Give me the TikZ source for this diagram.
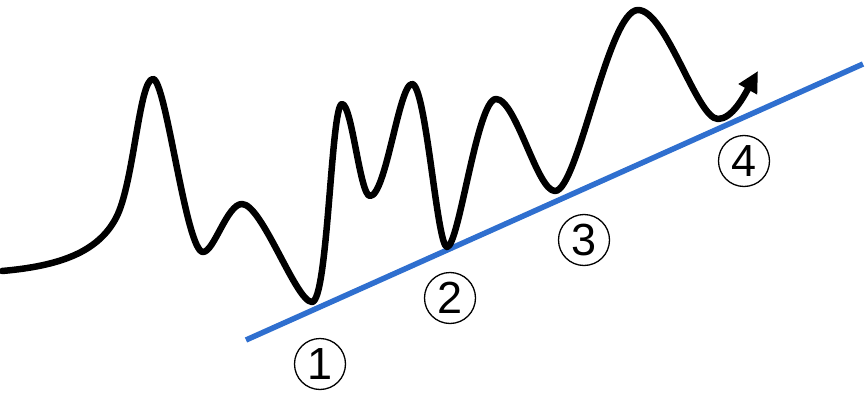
\documentclass[tikz,border=0pt]{standalone}
\usepackage{fontspec}
\setmainfont{Liberation Sans}
\usetikzlibrary{arrows.meta}
\definecolor{trendblue}{RGB}{47,111,207}
\tikzset{
  wave/.style={line width=6.5pt, line cap=round, line join=round, black},
  trend/.style={line width=5.5pt, trendblue},
  num/.style={circle, draw=black, line width=1.3pt, minimum size=51pt, inner sep=0pt, font=\fontsize{45}{45}\selectfont}
}
\begin{document}
\begin{tikzpicture}[x=1pt,y=-1pt]
\useasboundingbox (0,0) rectangle (865,412);
\coordinate (ts) at (246,340);
\coordinate (te) at (863,64);
\draw[trend] (ts) -- (te);
\coordinate (w0) at (2,271);
\coordinate (wend) at (758,71);
\draw[wave, -{Triangle[length=21pt,width=20pt]}] (w0)
 .. controls (60,266) and (98,252) .. (116,218)
 .. controls (134,184) and (139,79) .. (153,79)
 .. controls (166,79) and (186,252) .. (203,252)
 .. controls (214,252) and (227,204) .. (242,204)
 .. controls (262,204) and (296,302) .. (312,302)
 .. controls (328,302) and (331,104) .. (342,104)
 .. controls (352,104) and (360,196) .. (370,196)
 .. controls (386,196) and (399,84) .. (412,84)
 .. controls (426,84) and (437,247) .. (447,247)
 .. controls (459,247) and (477,99) .. (496,99)
 .. controls (516,99) and (537,191) .. (555,191)
 .. controls (578,191) and (608,10) .. (638,10)
 .. controls (666,10) and (697,119) .. (718,119)
 .. controls (732,119) and (744,96) .. (wend);
\node[num] (n1) at (320,364) {1};
\node[num] (n2) at (450,298) {2};
\node[num] (n3) at (584,240) {3};
\node[num] (n4) at (744,161) {4};
\end{tikzpicture}
\end{document}
